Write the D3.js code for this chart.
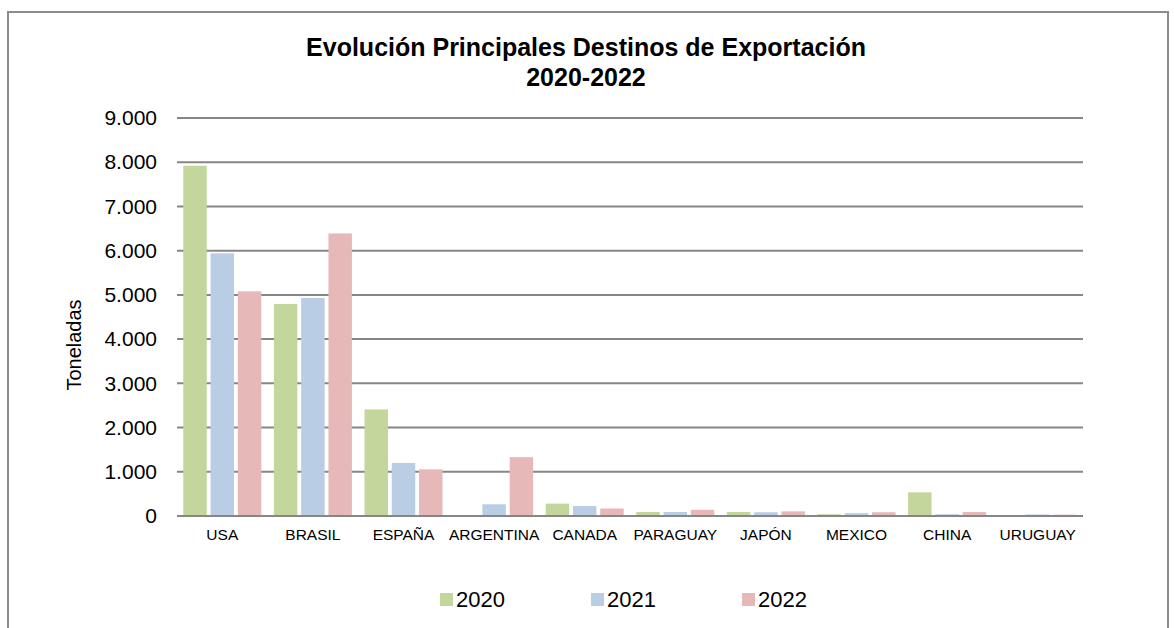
<html>
<head>
<meta charset="utf-8">
<title>Evolución Principales Destinos de Exportación 2020-2022</title>
<script src='https://d3js.org/d3.v7.min.js'></script>
<style>
body {margin:0; background:#fff;}
text {font-family: "Liberation Sans", Arial, sans-serif; fill:#000;}
</style>
</head>
<body>
<svg width=1174 height=628></svg>
<script>

// data (toneladas)
var destinos = ["USA","BRASIL","ESPAÑA","ARGENTINA","CANADA","PARAGUAY","JAPÓN","MEXICO","CHINA","URUGUAY"]
var anios = ["2020","2021","2022"]
var v2020 = [7920, 4795, 2410, 0, 280, 90, 90, 40, 535, 20]
var v2021 = [5940, 4930, 1200, 265, 225, 90, 85, 65, 40, 35]
var v2022 = [5080, 6390, 1055, 1330, 170, 140, 105, 85, 90, 30]
var yTicks = [0,1000,2000,3000,4000,5000,6000,7000,8000,9000]
var colores = ["#c3d69b","#b9cde5","#e6b9b8"]

var series = [v2020, v2021, v2022]

var svg = d3.select("svg")

// outer frame
svg.append("rect")
	.attr("x", 8).attr("y", 12)
	.attr("width", 1160).attr("height", 700)
	.style("fill", "none")
	.style("stroke", "#8c8c8c")
	.style("stroke-width", 2)

// title
var title = svg.append("text")
	.attr("text-anchor", "middle")
	.style("font-weight", "bold")
	.style("font-size", "25px")
title.append("tspan").attr("x", 586).attr("y", 56).text("Evolución Principales Destinos de Exportación")
title.append("tspan").attr("x", 586).attr("y", 86).text("2020-2022")

var x0 = d3.scaleBand().domain(destinos).range([177, 1083])
var pad = 6.3
var x1 = d3.scaleBand().domain(anios).range([pad, x0.bandwidth() - pad]).paddingInner(0.14)
var y = d3.scaleLinear().domain([0, 9000]).range([516, 118])

var loc = d3.formatLocale({decimal: ",", thousands: ".", grouping: [3], currency: ["", ""]})
var fmt = loc.format(",")

// gridlines
svg.append("g")
	.selectAll("line").data(yTicks)
	.enter()
	.append("line")
	.attr("x1", 177).attr("x2", 1083)
	.attr("y1", function(d) { return y(d) })
	.attr("y2", function(d) { return y(d) })
	.style("stroke", "#868686")
	.style("stroke-width", 2)

// y axis labels
var yAxis = svg.append("g")
	.attr("transform", "translate(177,0)")
	.call(d3.axisLeft(y).tickValues(yTicks).tickFormat(fmt).tickSize(0).tickPadding(20))
yAxis.select(".domain").remove()
yAxis.selectAll("text").style("font-size", "21px").attr("fill", "#000")

// bars
var groups = svg.append("g")
	.selectAll("g").data(destinos)
	.enter()
	.append("g")
	.attr("transform", function(d) { return "translate(" + x0(d) + ",0)" })

groups.selectAll("rect")
	.data(function(d, i) { return anios.map(function(a, j) { return {anio: a, valor: series[j][i], c: colores[j]} }) })
	.enter()
	.append("rect")
	.attr("x", function(d) { return x1(d.anio) })
	.attr("width", x1.bandwidth())
	.attr("y", function(d) { return y(d.valor) })
	.attr("height", function(d) { return y(0) - y(d.valor) })
	.style("fill", function(d) { return d.c })

// base line redrawn over the bars
svg.append("line")
	.attr("x1", 177).attr("x2", 1083)
	.attr("y1", y(0)).attr("y2", y(0))
	.style("stroke", "#868686")
	.style("stroke-width", 2)

// category labels
var xAxis = svg.append("g")
	.attr("transform", "translate(0," + y(0) + ")")
	.call(d3.axisBottom(x0).tickSize(0).tickPadding(13))
xAxis.select(".domain").remove()
xAxis.selectAll("text").style("font-size", "15.5px").attr("fill", "#000")

// y title
svg.append("text")
	.attr("transform", "translate(81,345) rotate(-90)")
	.attr("text-anchor", "middle")
	.style("font-size", "20px")
	.text("Toneladas")

// legend
var lx = d3.scalePoint().domain(anios).range([440, 742])
var leg = svg.append("g")
	.selectAll("g").data(anios)
	.enter()
	.append("g")
	.attr("transform", function(d) { return "translate(" + lx(d) + ",593)" })
leg.append("rect")
	.attr("width", 13).attr("height", 13)
	.style("fill", function(d, i) { return colores[i] })
leg.append("text")
	.attr("x", 16).attr("y", 14)
	.style("font-size", "22px")
	.text(function(d) { return d })

</script>
</body>
</html>
